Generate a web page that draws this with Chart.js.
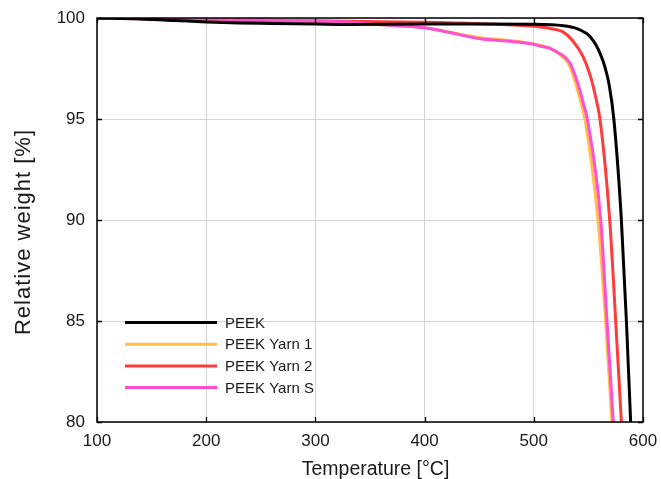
<!DOCTYPE html>
<html>
<head>
<meta charset="utf-8">
<script src="https://cdn.jsdelivr.net/npm/chart.js@4/dist/chart.umd.min.js"></script>
<style>
html,body{margin:0;padding:0;background:#fff;}
#wrap{width:661px;height:479px;position:relative;}
</style>
</head>
<body>
<div id="wrap"><canvas id="c" width="661" height="479"></canvas></div>
<script>
// ---- data ----
const seriesLabels = ['PEEK', 'PEEK Yarn 1', 'PEEK Yarn 2', 'PEEK Yarn S'];
const xTitle = 'Temperature [°C]';
const yTitle = 'Relative weight [%]';

const peekT = [100, 140, 170, 200, 230, 260, 300, 330, 400, 450, 500, 527, 539, 548, 552, 557, 561, 565, 569, 573.3, 580.2, 584.8, 588.7];
const peekW = [100, 99.95, 99.88, 99.8, 99.75, 99.73, 99.7, 99.68, 99.7, 99.7, 99.69, 99.62, 99.49, 99.24, 99.05, 98.66, 98.2, 97.6, 96.7, 95.0, 90, 85, 80];

const yarn1T = [100, 200, 250, 300, 330, 350, 375, 400, 423, 440, 454, 475, 500, 515, 521, 527, 531.5, 537.5, 543, 546.8, 558.8, 565.8, 571.5];
const yarn1W = [100, 99.95, 99.92, 99.88, 99.81, 99.7, 99.62, 99.52, 99.3, 99.12, 99.0, 98.9, 98.72, 98.5, 98.3, 98.05, 97.77, 96.93, 95.85, 95.0, 90, 85, 80];

const yarn2T = [100, 150, 200, 300, 400, 450, 497, 515, 527, 536, 545, 552, 557, 560.6, 569.5, 575, 580.2];
const yarn2W = [100, 99.95, 99.9, 99.85, 99.79, 99.72, 99.6, 99.48, 99.3, 98.85, 98.1, 97.1, 96.0, 95.0, 90, 85, 80];

const yarnST = [100, 200, 250, 290, 330, 350, 375, 400, 423, 440, 454, 475, 500, 506, 515, 521, 528.5, 533.1, 539.3, 545.3, 549, 561.3, 567, 572.8];
const yarnSW = [100, 99.95, 99.92, 99.86, 99.8, 99.7, 99.62, 99.52, 99.28, 99.08, 98.95, 98.86, 98.7, 98.6, 98.5, 98.32, 98.07, 97.77, 96.93, 95.8, 95.0, 90, 85, 80];

const xTicks = [100, 200, 300, 400, 500, 600];
const yTicks = [80, 85, 90, 95, 100];

const colors = ['#000000', '#FFBE46', '#FF3C3C', '#FF50D4'];

function pts(T, W) { return T.map((t, i) => ({x: t, y: W[i]})); }
const seriesData = [pts(peekT, peekW), pts(yarn1T, yarn1W), pts(yarn2T, yarn2W), pts(yarnST, yarnSW)];
const drawOrder = [0, 3, 2, 1];

const FONT = "'Liberation Sans', Arial, Helvetica, sans-serif";

// frame, inward ticks, axis titles and in-plot legend
const framePlugin = {
  id: 'frame',
  afterDatasetsDraw(chart) {
    const {ctx, chartArea: a, scales} = chart;
    const xs = scales.x, ys = scales.y;
    ctx.save();
    ctx.strokeStyle = '#000';
    ctx.lineWidth = 1.3;
    const tl = 5;
    ctx.beginPath();
    xTicks.forEach(v => {
      const px = Math.round(xs.getPixelForValue(v)) + 0.5;
      ctx.moveTo(px, a.bottom); ctx.lineTo(px, a.bottom - tl);
      ctx.moveTo(px, a.top); ctx.lineTo(px, a.top + tl);
    });
    yTicks.forEach(v => {
      const py = Math.round(ys.getPixelForValue(v)) + 0.5;
      ctx.moveTo(a.left, py); ctx.lineTo(a.left + tl, py);
      ctx.moveTo(a.right, py); ctx.lineTo(a.right - tl, py);
    });
    ctx.stroke();
    ctx.lineWidth = 1.5;
    ctx.strokeRect(a.left, a.top, a.right - a.left, a.bottom - a.top);

    // legend
    const lx0 = a.left + 28, lx1 = a.left + 120, tx = a.left + 128;
    const y0 = a.bottom - 99.5, dy = 21.7;
    ctx.font = '15px ' + FONT;
    ctx.textBaseline = 'middle';
    ctx.textAlign = 'left';
    chart.data.datasets.forEach((ds, i) => {
      const y = y0 + i * dy;
      ctx.strokeStyle = ds.borderColor;
      ctx.lineWidth = 3;
      ctx.beginPath(); ctx.moveTo(lx0, y); ctx.lineTo(lx1, y); ctx.stroke();
      ctx.fillStyle = '#1a1a1a';
      ctx.fillText(ds.label, tx, y + 1);
    });

    // axis titles
    ctx.fillStyle = '#1a1a1a';
    ctx.textAlign = 'center';
    ctx.textBaseline = 'alphabetic';
    ctx.font = '19.5px ' + FONT;
    ctx.fillText(xTitle, (a.left + a.right) / 2 + 5.5, 475);
    ctx.save();
    ctx.translate(30, (a.top + a.bottom) / 2 + 12);
    ctx.rotate(-Math.PI / 2);
    ctx.font = '22px ' + FONT;
    try { ctx.letterSpacing = '1px'; } catch (e) {}
    ctx.fillText(yTitle, 0, 0);
    ctx.restore();
    ctx.restore();
  }
};

new Chart(document.getElementById('c'), {
  type: 'line',
  data: {
    datasets: seriesLabels.map((lab, i) => ({
      label: lab,
      data: seriesData[i],
      borderColor: colors[i],
      backgroundColor: colors[i],
      borderWidth: 3,
      pointRadius: 0,
      fill: false,
      cubicInterpolationMode: 'monotone',
      order: drawOrder[i]
    }))
  },
  options: {
    responsive: false,
    animation: false,
    devicePixelRatio: 1,
    layout: {padding: {top: 18, right: 18, left: 0, bottom: 0}},
    plugins: {legend: {display: false}, tooltip: {enabled: false}},
    scales: {
      x: {
        type: 'linear', min: 100, max: 600,
        afterBuildTicks: s => { s.ticks = xTicks.map(v => ({value: v})); },
        afterFit: s => { s.height = 57; s.paddingLeft = 0; s.paddingRight = 0; },
        grid: {color: '#d4d4d4', lineWidth: 1, drawTicks: false},
        border: {display: false},
        ticks: {color: '#1a1a1a', font: {family: FONT, size: 17}, padding: 9, maxRotation: 0},
        title: {display: false, text: xTitle}
      },
      y: {
        type: 'linear', min: 80, max: 100,
        afterBuildTicks: s => { s.ticks = yTicks.map(v => ({value: v})); },
        afterFit: s => { s.width = 97; s.paddingTop = 0; s.paddingBottom = 0; },
        grid: {color: '#d4d4d4', lineWidth: 1, drawTicks: false},
        border: {display: false},
        ticks: {color: '#1a1a1a', font: {family: FONT, size: 17}, padding: 12},
        title: {display: false, text: yTitle}
      }
    }
  },
  plugins: [framePlugin]
});
</script>
</body>
</html>
